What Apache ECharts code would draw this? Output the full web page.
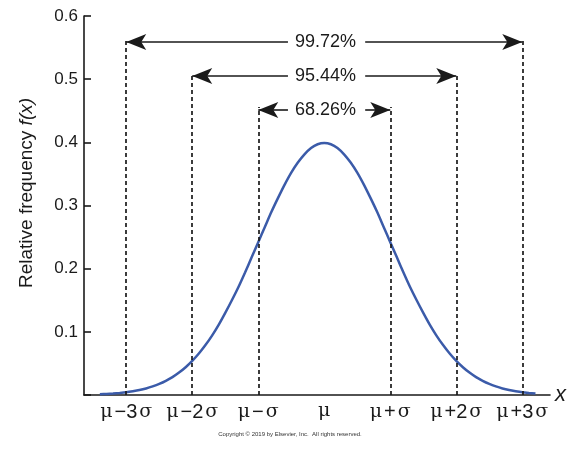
<!DOCTYPE html>
<html>
<head>
<meta charset="utf-8">
<script src="https://cdn.jsdelivr.net/npm/echarts@6.0.0/dist/echarts.min.js"></script>
<style>
  html, body { margin: 0; padding: 0; background: #fff; }
  #chart { width: 569px; height: 451px; }
</style>
</head>
<body>
<div id="chart"></div>
<script>
// curve (x in sigma units, relative frequency)
const curveX = [-3.4, -3.3, -3.2, -3.1, -3.0, -2.9, -2.8, -2.7, -2.6, -2.5, -2.4, -2.3, -2.2, -2.1, -2.0, -1.9, -1.8, -1.7,
                -1.6, -1.5, -1.4, -1.3, -1.2, -1.1, -1.0, -0.9, -0.8, -0.7, -0.6, -0.5, -0.4, -0.3, -0.2, -0.1, 0,
                0.1, 0.2, 0.3, 0.4, 0.5, 0.6, 0.7, 0.8, 0.9, 1.0, 1.1, 1.2, 1.3, 1.4, 1.5, 1.6, 1.7,
                1.8, 1.9, 2.0, 2.1, 2.2, 2.3, 2.4, 2.5, 2.6, 2.7, 2.8, 2.9, 3.0, 3.1, 3.2];
const curveY = [0.0012, 0.0017, 0.0024, 0.0033, 0.0044, 0.006, 0.0079, 0.0104, 0.0136, 0.0175, 0.0224, 0.0283, 0.0355, 0.044, 0.054, 0.0656, 0.079, 0.094,
                0.111, 0.130, 0.150, 0.171, 0.194, 0.218, 0.242, 0.266, 0.290, 0.312, 0.333, 0.352, 0.368, 0.381, 0.391, 0.397, 0.399,
                0.397, 0.391, 0.381, 0.368, 0.352, 0.333, 0.312, 0.290, 0.266, 0.242, 0.218, 0.194, 0.171, 0.150, 0.130, 0.111, 0.094,
                0.079, 0.0656, 0.054, 0.044, 0.0355, 0.0283, 0.0224, 0.0175, 0.0136, 0.0104, 0.0079, 0.006, 0.0044, 0.0033, 0.0024];

// tick labels on the x axis (rich text: greek letters in serif, the rest sans)
const tickPos = [-3, -2, -1, 0, 1, 2, 3];
const tickLabels = ['{g|μ}{n|−3}{g|σ}', '{g|μ}{n|−2}{g|σ}', '{g|μ}{n|−}{g|σ}', '{g|μ}',
                    '{g|μ}{n|+}{g|σ}', '{g|μ}{n|+2}{g|σ}', '{g|μ}{n|+3}{g|σ}'];

// ranges: half-width in sigma, height of dashed guide, height of arrow, label
const spanK = [3, 2, 1];
const guideTop = [0.562, 0.508, 0.456];
const arrowY = [0.559, 0.505, 0.451];
const spanText = ['99.72%', '95.44%', '68.26%'];
const textGap = [-0.55, 0.62]; // where the arrow lines break around the text

const ink = '#1a1a1a';
const chart = echarts.init(document.getElementById('chart'));

const marks = [];
spanK.forEach((k, i) => {
  [-k, k].forEach(x => {
    marks.push([
      { coord: [x, 0], symbol: 'none' },
      { coord: [x, guideTop[i]], symbol: 'none', lineStyle: { type: [4, 3], width: 1.7, color: ink } }
    ]);
  });
  marks.push([
    { coord: [textGap[0], arrowY[i]], symbol: 'none' },
    { coord: [-k, arrowY[i]], symbol: 'arrow', lineStyle: { type: 'solid', width: 1.6, color: ink } }
  ]);
  marks.push([
    { coord: [textGap[1], arrowY[i]], symbol: 'none' },
    { coord: [k, arrowY[i]], symbol: 'arrow', lineStyle: { type: 'solid', width: 1.6, color: ink } }
  ]);
});

chart.setOption({
  animation: false,
  backgroundColor: '#fff',
  grid: { left: 84, right: 19, top: 16, bottom: 56 },
  xAxis: {
    type: 'value',
    min: -3.64, max: 3.42,
    name: 'x',
    nameLocation: 'end',
    nameGap: 5,
    nameTextStyle: { fontFamily: 'Liberation Sans', fontStyle: 'italic', fontSize: 22, color: ink, verticalAlign: 'middle', padding: [6, 0, 0, 0] },
    axisLine: { lineStyle: { color: ink, width: 1.6 } },
    axisTick: { show: false },
    splitLine: { show: false },
    axisLabel: {
      customValues: tickPos,
      margin: 7,
      color: ink,
      formatter: v => tickLabels[tickPos.indexOf(Math.round(v))] || '',
      rich: {
        g: { fontFamily: 'DejaVu Serif', fontSize: 19, color: ink },
        n: { fontFamily: 'Liberation Sans', fontSize: 20, color: ink, padding: [0, 2, 0, 2] }
      }
    }
  },
  yAxis: {
    type: 'value',
    min: 0, max: 0.6, interval: 0.1,
    axisLine: { show: true, onZero: false, lineStyle: { color: ink, width: 1.6 } },
    axisTick: { show: true, inside: true, length: 7, lineStyle: { color: ink, width: 1.6 } },
    splitLine: { show: false },
    axisLabel: {
      margin: 6,
      fontFamily: 'Liberation Sans',
      fontSize: 17,
      color: ink,
      formatter: v => v === 0 ? '' : v.toFixed(1)
    }
  },
  series: [{
    type: 'line',
    data: curveX.map((x, i) => [x, curveY[i]]),
    smooth: 0.3,
    symbol: 'none',
    lineStyle: { color: '#3b5ba9', width: 2.5 },
    z: 3,
    markLine: {
      silent: true,
      symbolSize: [12, 20],
      label: { show: false },
      lineStyle: { color: ink, width: 1.6, type: 'solid' },
      data: marks
    },
    markPoint: {
      silent: true,
      symbol: 'circle',
      symbolSize: 0,
      label: {
        show: true,
        position: 'inside',
        fontFamily: 'Liberation Sans',
        fontSize: 18,
        color: ink,
        formatter: p => p.name
      },
      data: spanText.map((t, i) => ({ name: t, coord: [0.02, arrowY[i]] }))
    }
  }],
  graphic: [
    {
      type: 'text',
      x: 27, y: 193,
      rotation: Math.PI / 2,
      style: {
        text: 'Relative frequency {i|f(x)}',
        fontFamily: 'Liberation Sans',
        fontSize: 19,
        fill: ink,
        align: 'center',
        verticalAlign: 'middle',
        rich: { i: { fontFamily: 'Liberation Sans', fontStyle: 'italic', fontSize: 19, fill: ink } }
      }
    },
    {
      type: 'text',
      x: 290, y: 434,
      style: {
        text: 'Copyright © 2019 by Elsevier, Inc.  All rights reserved.',
        fontFamily: 'Liberation Sans',
        fontSize: 6,
        fill: '#333',
        align: 'center',
        verticalAlign: 'middle'
      }
    }
  ]
});
</script>
</body>
</html>
